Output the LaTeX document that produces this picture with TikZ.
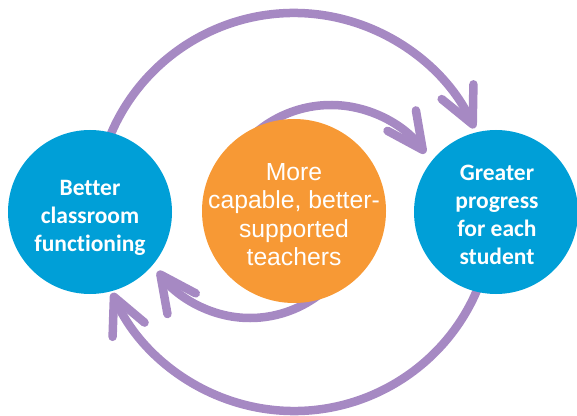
\documentclass[tikz,border=0pt]{standalone}
\usepackage{fontspec}
\setmainfont{Liberation Sans}
\newfontfamily\calib[Ligatures=NoCommon]{Carlito}
\usetikzlibrary{arrows.meta,calc}
\definecolor{cblue}{HTML}{009FD7}
\definecolor{corange}{HTML}{F79935}
\definecolor{cpurple}{HTML}{A689C3}
\tikzset{
  bluecirc/.style={circle, inner sep=0pt, minimum size=164pt, fill=cblue},
  orangecirc/.style={circle, inner sep=0pt, minimum size=184pt, fill=corange},
  bluetxt/.style={text=white, align=center, inner sep=0pt, font=\calib\bfseries\fontsize{23.5}{28}\selectfont},
  orangetxt/.style={text=white, align=center, inner sep=0pt, font=\fontsize{24.7}{28.3}\selectfont},
  cyclearrow/.style={draw=cpurple, line width=8.5pt, line cap=round,
    -{Straight Barb[length=36pt, width=35pt, line width=0pt 1, round]}},
}
\begin{document}
\begin{tikzpicture}[x=1pt,y=1pt]
\useasboundingbox (0,0) rectangle (577,415);
\coordinate (bigc) at (294,203);
\coordinate (uc) at (331,194);
\coordinate (lc) at (250,211);
% arcs
\draw[cyclearrow] ($(bigc)+(165:199pt)$) arc[start angle=165, end angle=24.9, radius=199pt];
\draw[cyclearrow] ($(bigc)+(-15:199pt)$) arc[start angle=-15, end angle=-156, radius=199pt];
\draw[cyclearrow] ($(uc)+(140:116pt)$) arc[start angle=140, end angle=35.7, radius=116pt];
\draw[cyclearrow] ($(lc)+(-45:114pt)$) arc[start angle=-45, end angle=-143.9, radius=114pt];
% circles
\node[bluecirc] (L) at (90,203) {};
\node[orangecirc] (O) at (294,204) {};
\node[bluecirc] (R) at (496,203) {};
\node[bluetxt] (Lt) at (90,197.5) {Better\\classroom\\functioning};
\node[orangetxt] (Ot) at (294,200.5) {More\\capable, better-\\supported\\teachers};
\node[bluetxt] (Rt) at (497,200) {Greater\\progress\\for each\\student};
\end{tikzpicture}
\end{document}
